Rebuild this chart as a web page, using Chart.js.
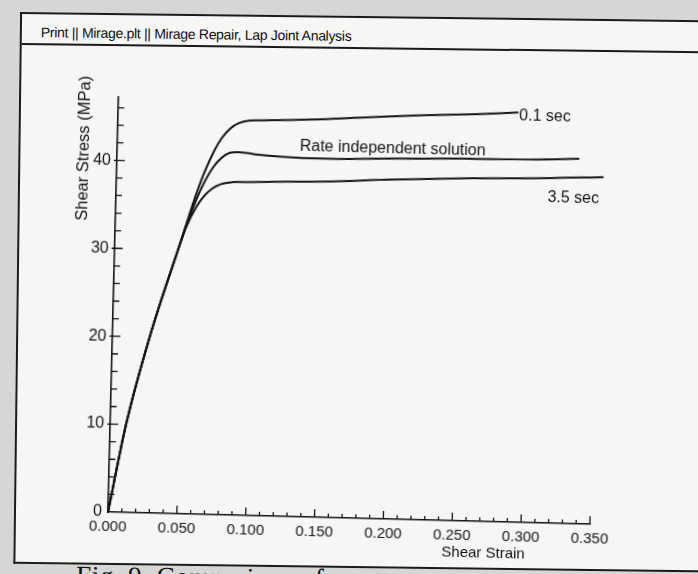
<!DOCTYPE html>
<html>
<head>
<meta charset="utf-8">
<script src="https://cdn.jsdelivr.net/npm/chart.js@4.4.1/dist/chart.umd.min.js"></script>
<style>
    html, body { margin: 0; padding: 0; width: 698px; height: 574px; overflow: hidden; background: #d6d6d4; }
    #page { position: absolute; left: 0; top: 0; width: 698px; height: 574px; transform-origin: 108px 512px; transform: rotate(0.7deg); }
    #frame { position: absolute; left: 14px; top: 13px; width: 700px; height: 548px; background: #f6f6f4; border-left: 2px solid #1a1a1a; border-top: 2px solid #1a1a1a; border-bottom: 2px solid #1a1a1a; }
    #header { position: absolute; left: 0; top: 0; width: 100%; height: 29px; border-bottom: 2px solid #1a1a1a; }
    #header span { position: absolute; left: 19px; top: 10px; font: 14px "Liberation Sans", Arial, sans-serif; letter-spacing: -0.3px; color: #0e0e0e; }
    #caption { position: absolute; left: 77px; top: 563px; font: 27px/1 "Liberation Serif", serif; color: #111; white-space: nowrap; letter-spacing: 0.5px; }
    #plot { position: absolute; left: 0; top: 0; width: 698px; height: 574px; transform-origin: 108px 512px; transform: rotate(1.45deg); }
    #plot canvas { position: absolute; left: 0; top: 0; }
    .axis-title { position: absolute; font: 15.5px "Liberation Sans", Arial, sans-serif; color: #111; white-space: nowrap; }
    #ytitle { left: 74px; top: 149px; transform: translate(-50%, -50%) rotate(-90deg); font-size: 16.5px; }
    #xtitle { left: 484px; top: 542px; transform: translate(-50%, -50%); font-size: 15px; }
</style>
</head>
<body>
<div id="page">
    <div id="frame">
        <div id="header"><span>Print || Mirage.plt || Mirage Repair, Lap Joint Analysis</span></div>
    </div>
    <div id="caption">Fig. 9. Comparison of</div>
</div>
<div id="plot">
    <canvas id="chart" width="698" height="574"></canvas>
    <div class="axis-title" id="ytitle">Shear Stress (MPa)</div>
    <div class="axis-title" id="xtitle">Shear Strain</div>
</div>
<script>
// valeurs
const strainFast = [0, 0.0115, 0.027, 0.046, 0.052, 0.058, 0.064, 0.070, 0.076, 0.082, 0.088, 0.095, 0.11, 0.14, 0.18, 0.22, 0.26, 0.29];
const stressFast = [0, 10, 20, 30, 33.2, 36.3, 39.0, 41.2, 42.9, 44.0, 44.6, 44.9, 45.0, 45.2, 45.6, 46.0, 46.3, 46.6];

const strainRate = [0, 0.0115, 0.027, 0.046, 0.052, 0.058, 0.064, 0.070, 0.076, 0.082, 0.088, 0.10, 0.12, 0.15, 0.20, 0.25, 0.30, 0.335];
const stressRate = [0, 10, 20, 30, 33.0, 35.6, 37.8, 39.5, 40.6, 41.2, 41.3, 41.1, 40.9, 40.8, 41.0, 41.2, 41.3, 41.5];

const strainSlow = [0, 0.0115, 0.027, 0.046, 0.052, 0.058, 0.064, 0.070, 0.076, 0.082, 0.090, 0.11, 0.15, 0.20, 0.26, 0.31, 0.353];
const stressSlow = [0, 10, 20, 30, 32.8, 34.8, 36.2, 37.1, 37.6, 37.8, 37.9, 38.0, 38.2, 38.6, 39.0, 39.2, 39.5];

const xTickValues = [0, 0.05, 0.10, 0.15, 0.20, 0.25, 0.30, 0.35];
const xTickLabels = ['0.000', '0.050', '0.100', '0.150', '0.200', '0.250', '0.300', '0.350'];
const yTickValues = [0, 10, 20, 30, 40];
const yTickLabels = ['0', '10', '20', '30', '40'];

const curveNotes = [
    { text: '0.1 sec', x: 0.310, y: 46.2 },
    { text: 'Rate independent solution', x: 0.200, y: 42.1 },
    { text: '3.5 sec', x: 0.332, y: 37.0 }
];

const ink = '#141414';

const toPoints = (xs, ys) => xs.map((v, i) => ({ x: v, y: ys[i] }));

// petites graduations vers l'intérieur, comme sur le tracé d'origine
const innerTicks = {
    id: 'innerTicks',
    afterDraw(chart) {
        const { ctx, scales: { x, y } } = chart;
        ctx.save();
        ctx.strokeStyle = ink;
        ctx.lineWidth = 1.3;
        ctx.beginPath();
        for (let i = 0; i <= 35; i++) {
            const px = x.getPixelForValue(i / 100);
            const len = i % 5 === 0 ? 8 : 4;
            ctx.moveTo(px, y.bottom);
            ctx.lineTo(px, y.bottom - len);
        }
        for (let v = 2; v <= 46; v += 2) {
            const py = y.getPixelForValue(v);
            if (v % 10 === 0) {
                ctx.moveTo(x.left - 3, py);
                ctx.lineTo(x.left + 8, py);
            } else {
                ctx.moveTo(x.left, py);
                ctx.lineTo(x.left + 6, py);
            }
        }
        ctx.stroke();
        ctx.restore();
    }
};

const curveLabels = {
    id: 'curveLabels',
    afterDatasetsDraw(chart) {
        const { ctx, scales: { x, y } } = chart;
        ctx.save();
        ctx.fillStyle = ink;
        ctx.font = '16px "Liberation Sans", Arial, sans-serif';
        ctx.textAlign = 'center';
        ctx.textBaseline = 'middle';
        curveNotes.forEach(n => {
            ctx.fillText(n.text, x.getPixelForValue(n.x), y.getPixelForValue(n.y));
        });
        ctx.restore();
    }
};

Chart.defaults.font.family = '"Liberation Sans", Arial, sans-serif';
Chart.defaults.color = ink;

new Chart(document.getElementById('chart'), {
    type: 'line',
    data: {
        datasets: [
            { label: '0.1 sec', data: toPoints(strainFast, stressFast) },
            { label: 'Rate independent solution', data: toPoints(strainRate, stressRate) },
            { label: '3.5 sec', data: toPoints(strainSlow, stressSlow), clip: false }
        ]
    },
    options: {
        responsive: false,
        animation: false,
        layout: { padding: { left: 20, top: 97, right: 108, bottom: 10 } },
        plugins: {
            legend: { display: false },
            tooltip: { enabled: false }
        },
        elements: {
            point: { radius: 0 },
            line: { borderWidth: 2, borderColor: ink, cubicInterpolationMode: 'monotone', borderJoinStyle: 'round', borderCapStyle: 'round' }
        },
        scales: {
            x: {
                type: 'linear',
                min: 0,
                max: 0.35,
                afterBuildTicks: s => { s.ticks = xTickValues.map(v => ({ value: v })); },
                afterFit: s => { s.height = 52; },
                grid: { display: false, drawTicks: false },
                border: { display: true, color: ink, width: 1.6 },
                ticks: {
                    padding: 6,
                    autoSkip: false,
                    maxRotation: 0,
                    font: { size: 15 },
                    callback: (v, i) => xTickLabels[i]
                }
            },
            y: {
                min: 0,
                max: 47.2,
                afterBuildTicks: s => { s.ticks = yTickValues.map(v => ({ value: v })); },
                afterFit: s => { s.width = 88; },
                grid: { display: false, drawTicks: false },
                border: { display: true, color: ink, width: 1.6 },
                ticks: {
                    padding: 6,
                    font: { size: 16 },
                    callback: (v, i) => yTickLabels[i]
                }
            }
        }
    },
    plugins: [innerTicks, curveLabels]
});
</script>
</body>
</html>
